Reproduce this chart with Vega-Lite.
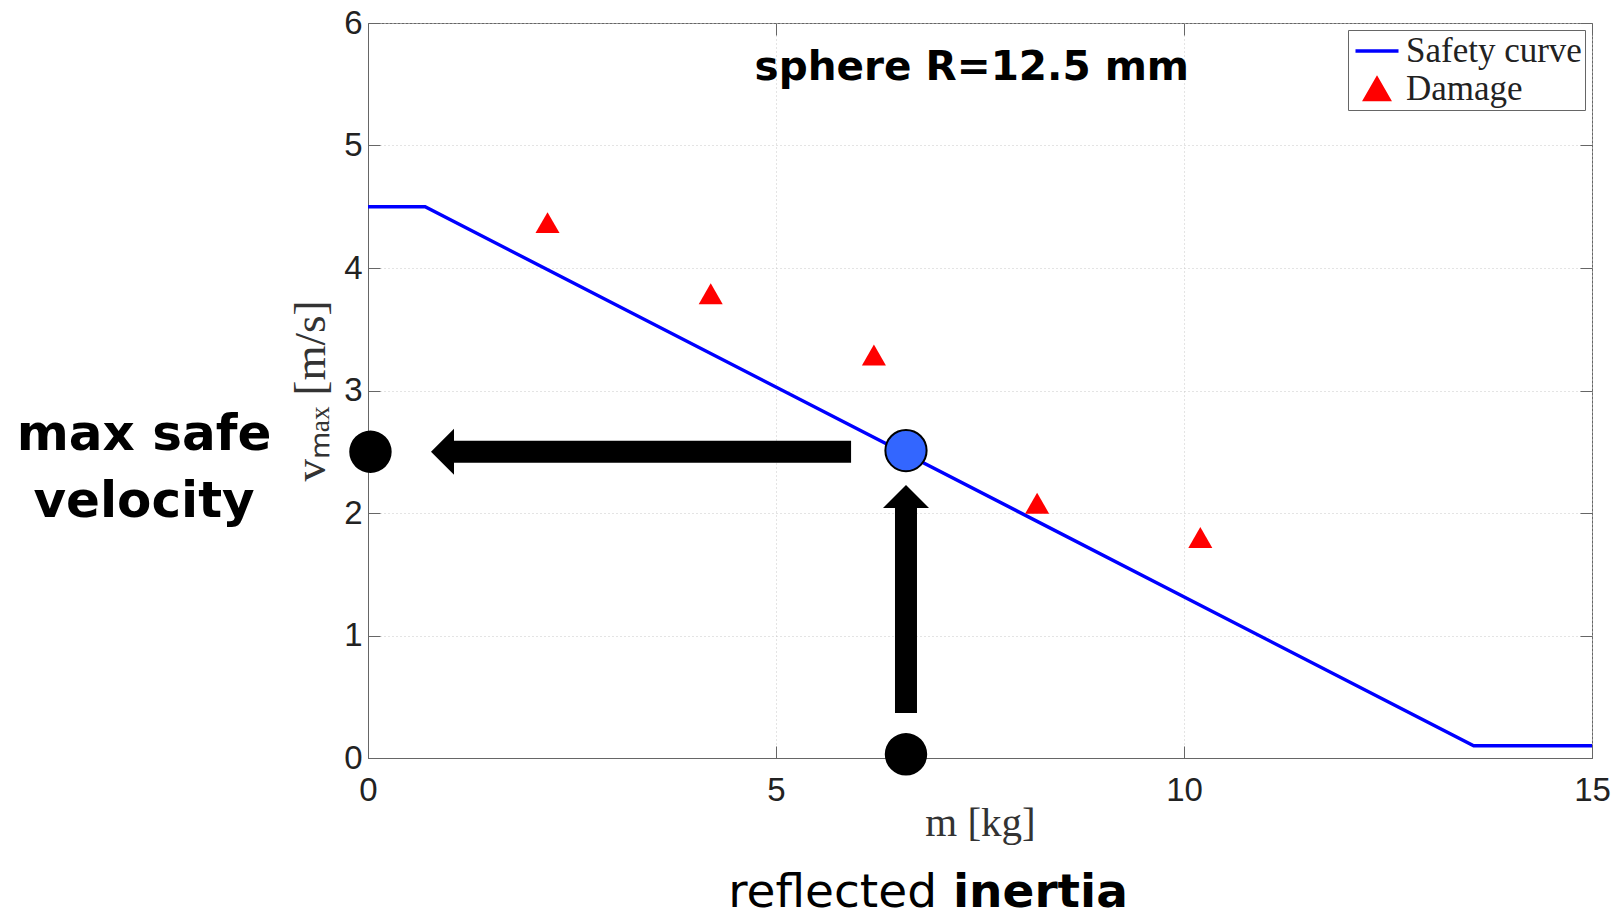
{
  "$schema": "https://vega.github.io/schema/vega-lite/v6.json",
  "width": 1224,
  "height": 735,
  "autosize": {"type": "none"},
  "padding": {"left": 368, "top": 23, "right": 24, "bottom": 161},
  "background": "white",
  "datasets": {
    "curve": [
      {"m": 0, "v": 4.5, "series": "Safety curve"},
      {"m": 0.7, "v": 4.5, "series": "Safety curve"},
      {"m": 13.55, "v": 0.1, "series": "Safety curve"},
      {"m": 15, "v": 0.1, "series": "Safety curve"}
    ],
    "damage": [
      {"m": 2.2, "v": 4.37, "series": "Damage"},
      {"m": 4.2, "v": 3.79, "series": "Damage"},
      {"m": 6.2, "v": 3.29, "series": "Damage"},
      {"m": 8.2, "v": 2.08, "series": "Damage"},
      {"m": 10.2, "v": 1.8, "series": "Damage"}
    ],
    "shafts": [
      {"m": 1.05, "m2": 5.92, "v": 2.5, "v2": 2.5},
      {"m": 6.593, "m2": 6.593, "v": 0.367, "v2": 2.041}
    ],
    "headLeft": [{"m": 1.054, "v": 2.5}],
    "headUp": [{"m": 6.593, "v": 2.041}],
    "blackDots": [{"m": 0.03, "v": 2.5}, {"m": 6.593, "v": 0.03}],
    "blueDot": [{"m": 6.593, "v": 2.51}],
    "title": [{"m": 7.4, "v": 5.535, "label": "sphere R=12.5 mm"}],
    "leftText": [{"m": -2.745, "v": 2.514, "label": "max safe\nvelocity"}],
    "bottomNormal": [{"m": 6.973, "v": -1.22, "label": "reflected"}],
    "bottomBold": [{"m": 7.169, "v": -1.22, "label": "inertia"}]
  },
  "resolve": {"axis": {"x": "independent", "y": "independent"}},
  "layer": [
    {
      "data": {"name": "curve"},
      "mark": {"type": "line", "strokeWidth": 3.4},
      "encoding": {
        "x": {
          "field": "m", "type": "quantitative",
          "scale": {"domain": [0, 15], "nice": false, "zero": false},
          "axis": {
            "orient": "bottom", "values": [0, 5, 10, 15],
            "title": "m [kg]", "titleFont": "Liberation Serif", "titleFontSize": 41,
            "titleFontWeight": "normal", "titleColor": "#333", "titlePadding": -4,
            "labelFont": "Liberation Sans", "labelFontSize": 33, "labelColor": "#222",
            "labelPadding": 28, "tickSize": -12, "tickColor": "#666", "domainColor": "#666",
            "grid": true, "gridDash": [1, 3], "gridColor": "#c8c8c8",
            "labelFlush": false, "labelOverlap": false
          }
        },
        "y": {
          "field": "v", "type": "quantitative",
          "scale": {"domain": [0, 6], "nice": false, "zero": false},
          "axis": {
            "orient": "left", "values": [0, 1, 2, 3, 4, 5, 6],
            "title": "vₘₐₓ [m/s]", "titleFont": "Liberation Serif", "titleFontSize": 45,
            "titleFontWeight": "normal", "titleColor": "#333", "titlePadding": 10,
            "labelFont": "Liberation Sans", "labelFontSize": 33, "labelColor": "#222",
            "labelPadding": 18, "tickSize": -12, "tickColor": "#666", "domainColor": "#666",
            "grid": true, "gridDash": [1, 3], "gridColor": "#c8c8c8",
            "labelFlush": false, "labelOverlap": false
          }
        },
        "color": {
          "field": "series", "type": "nominal",
          "scale": {"domain": ["Safety curve", "Damage"], "range": ["#0000ff", "#ff0000"]},
          "legend": {
            "title": null,
            "encode": {"symbols": {"update": {"stroke": {"scale": "color", "field": "value"}, "strokeWidth": {"value": 3.4}}}}
          }
        }
      }
    },
    {
      "data": {"name": "damage"},
      "mark": {"type": "point", "filled": true, "size": 1000, "opacity": 1},
      "encoding": {
        "x": {
          "field": "m", "type": "quantitative",
          "axis": {"orient": "top", "values": [0, 5, 10, 15], "labels": false, "title": null, "grid": false, "domain": false, "tickSize": -12, "tickColor": "#666"}
        },
        "y": {
          "field": "v", "type": "quantitative",
          "axis": {"orient": "right", "values": [0, 1, 2, 3, 4, 5, 6], "labels": false, "title": null, "grid": false, "domain": false, "tickSize": -12, "tickColor": "#666"}
        },
        "color": {"field": "series", "type": "nominal", "legend": {"title": null}},
        "shape": {
          "field": "series", "type": "nominal",
          "scale": {"domain": ["Safety curve", "Damage"], "range": ["M -1.36 0 L 1.36 0", "M 0 -0.66 L 0.76 0.66 L -0.76 0.66 Z"]},
          "legend": {"title": null}
        }
      }
    },
    {
      "data": {"name": "shafts"},
      "mark": {"type": "rule", "strokeWidth": 22, "color": "black", "strokeCap": "butt"},
      "encoding": {
        "x": {"field": "m", "type": "quantitative", "axis": null},
        "x2": {"field": "m2"},
        "y": {"field": "v", "type": "quantitative", "axis": null},
        "y2": {"field": "v2"}
      }
    },
    {
      "data": {"name": "headLeft"},
      "mark": {"type": "point", "filled": true, "opacity": 1, "color": "black", "size": 2116, "shape": "M -1 0 L 0 -1 L 0 1 Z"},
      "encoding": {
        "x": {"field": "m", "type": "quantitative", "axis": null},
        "y": {"field": "v", "type": "quantitative", "axis": null}
      }
    },
    {
      "data": {"name": "headUp"},
      "mark": {"type": "point", "filled": true, "opacity": 1, "color": "black", "size": 2116, "shape": "M 0 -1 L -1 0 L 1 0 Z"},
      "encoding": {
        "x": {"field": "m", "type": "quantitative", "axis": null},
        "y": {"field": "v", "type": "quantitative", "axis": null}
      }
    },
    {
      "data": {"name": "blackDots"},
      "mark": {"type": "circle", "opacity": 1, "color": "black", "size": 1800},
      "encoding": {
        "x": {"field": "m", "type": "quantitative", "axis": null},
        "y": {"field": "v", "type": "quantitative", "axis": null}
      }
    },
    {
      "data": {"name": "blueDot"},
      "mark": {"type": "circle", "opacity": 1, "fill": "#3366ff", "stroke": "black", "strokeWidth": 2, "size": 1700},
      "encoding": {
        "x": {"field": "m", "type": "quantitative", "axis": null},
        "y": {"field": "v", "type": "quantitative", "axis": null}
      }
    },
    {
      "data": {"name": "title"},
      "mark": {"type": "text", "font": "DejaVu Sans", "fontWeight": "bold", "fontSize": 40.5, "align": "center", "baseline": "alphabetic", "color": "black"},
      "encoding": {
        "x": {"field": "m", "type": "quantitative", "axis": null},
        "y": {"field": "v", "type": "quantitative", "axis": null},
        "text": {"field": "label"}
      }
    },
    {
      "data": {"name": "leftText"},
      "mark": {"type": "text", "font": "DejaVu Sans", "fontWeight": "bold", "fontSize": 50, "align": "center", "baseline": "alphabetic", "lineBreak": "\n", "lineHeight": 67, "color": "black"},
      "encoding": {
        "x": {"field": "m", "type": "quantitative", "axis": null},
        "y": {"field": "v", "type": "quantitative", "axis": null},
        "text": {"field": "label"}
      }
    },
    {
      "data": {"name": "bottomNormal"},
      "mark": {"type": "text", "font": "DejaVu Sans", "fontWeight": "normal", "fontSize": 47, "align": "right", "baseline": "alphabetic", "color": "black"},
      "encoding": {
        "x": {"field": "m", "type": "quantitative", "axis": null},
        "y": {"field": "v", "type": "quantitative", "axis": null},
        "text": {"field": "label"}
      }
    },
    {
      "data": {"name": "bottomBold"},
      "mark": {"type": "text", "font": "DejaVu Sans", "fontWeight": "bold", "fontSize": 47, "align": "left", "baseline": "alphabetic", "color": "black"},
      "encoding": {
        "x": {"field": "m", "type": "quantitative", "axis": null},
        "y": {"field": "v", "type": "quantitative", "axis": null},
        "text": {"field": "label"}
      }
    }
  ],
  "config": {
    "font": "Liberation Sans",
    "view": {"stroke": "#666", "strokeWidth": 1},
    "legend": {
      "orient": "top-right", "offset": 7, "strokeColor": "#666", "fillColor": "white",
      "padding": 3, "labelFont": "Liberation Serif", "labelFontSize": 35, "labelColor": "#222",
      "labelLimit": 0, "symbolSize": 1000, "symbolStrokeWidth": 3.4, "symbolOffset": 8,
      "rowPadding": 2, "labelOffset": 11
    }
  }
}
